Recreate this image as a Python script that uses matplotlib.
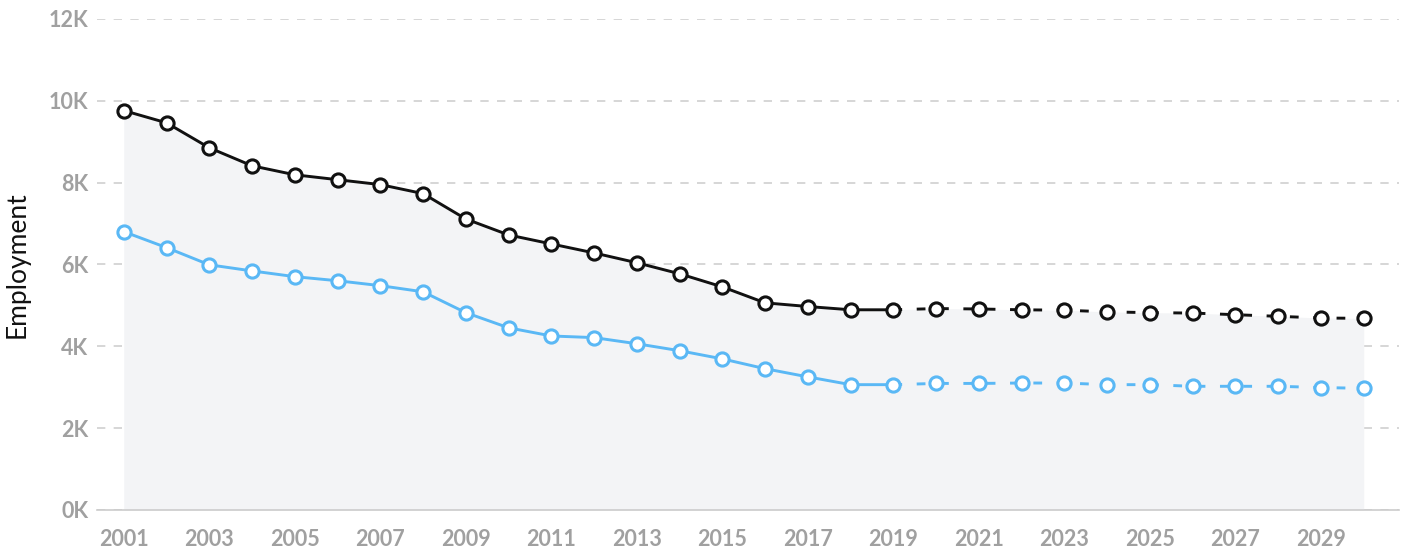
import matplotlib
matplotlib.use('Agg')
import matplotlib.pyplot as plt
import numpy as np

# data (thousands -> raw)
years = list(range(2001, 2031))
total = [9.76, 9.46, 8.85, 8.41, 8.19, 8.07, 7.95, 7.73, 7.11, 6.72,
         6.50, 6.28, 6.04, 5.77, 5.45, 5.06, 4.97, 4.89, 4.89, 4.92,
         4.91, 4.89, 4.88, 4.84, 4.82, 4.81, 4.77, 4.73, 4.69, 4.68]
subset = [6.80, 6.41, 5.99, 5.84, 5.70, 5.60, 5.48, 5.33, 4.82, 4.45,
          4.25, 4.21, 4.06, 3.89, 3.69, 3.45, 3.25, 3.06, 3.06, 3.09,
          3.09, 3.10, 3.10, 3.06, 3.06, 3.02, 3.02, 3.02, 2.99, 2.97]
last_actual = 2019
yticks = [0, 2000, 4000, 6000, 8000, 10000, 12000]

x = np.array(years)
y1 = np.array(total) * 1000
y2 = np.array(subset) * 1000
hist = x <= last_actual
proj = x >= last_actual

fig = plt.figure(figsize=(14.03, 5.56), dpi=100)
ax = fig.add_axes([0.069, 0.083, 0.928, 0.883])

ax.fill_between(x, 0, y1, color='#f3f4f6', zorder=1, linewidth=0)

for y, col in [(y1, '#111111'), (y2, '#5ab8f5')]:
    ax.plot(x[hist], y[hist], color=col, lw=2.1, zorder=3)
    ax.plot(x[proj], y[proj], color=col, lw=2.1, ls=(0, (3, 5)), zorder=3)
    ax.plot(x, y, ls='none', marker='o', ms=9.5, mfc='white', mec=col,
            mew=2.2, zorder=4)

ax.set_ylim(0, 12000)
ax.set_xlim(2000.37, 2030.82)
ax.set_yticks(yticks)
ax.set_yticklabels([f'{int(t/1000)}K' for t in yticks])
ax.set_xticks(years[::2])

for s in ['top', 'right', 'left']:
    ax.spines[s].set_visible(False)
ax.spines['bottom'].set_color('#cccccc')
ax.spines['bottom'].set_linewidth(1.2)

ax.yaxis.grid(True, color='#d0d0d0', ls=(0, (5, 5)), lw=1.2)
ax.set_axisbelow(True)
ax.tick_params(axis='both', length=0, labelsize=15.5, labelcolor='#a0a0a0')
ax.tick_params(axis='x', pad=14)
ax.tick_params(axis='y', pad=6)
for lab in ax.get_xticklabels() + ax.get_yticklabels():
    lab.set_fontfamily('Lato')
    lab.set_fontweight('bold')

ax.set_ylabel('Employment', fontsize=19, fontfamily='Lato', color='#111111', labelpad=14)

plt.savefig('out.png', dpi=100)
